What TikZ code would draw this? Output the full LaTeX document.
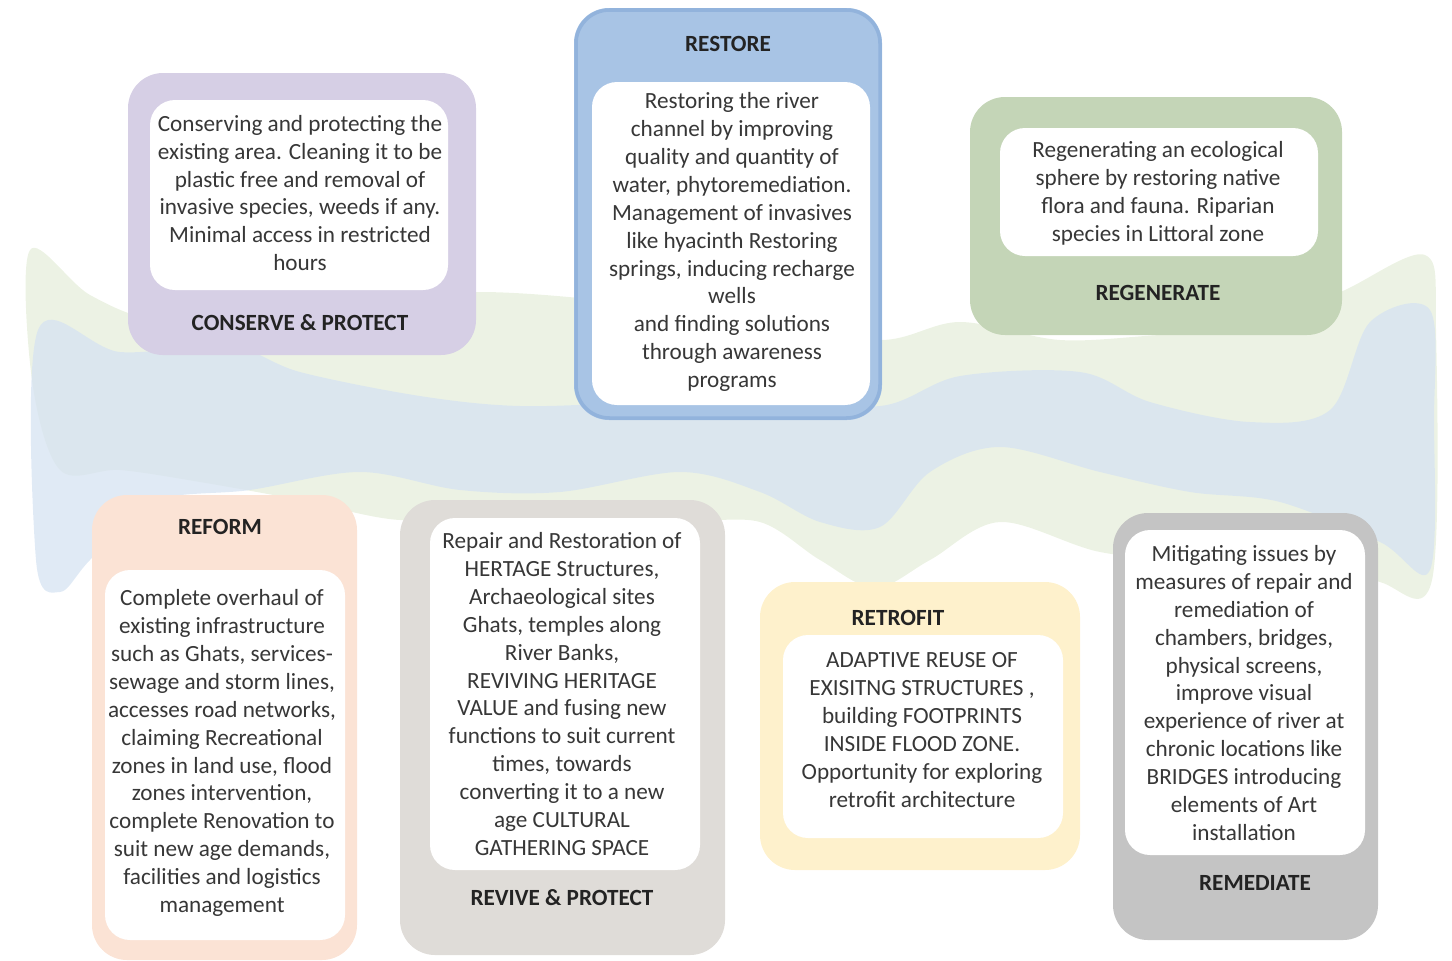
\documentclass[tikz,border=0pt]{standalone}
\usepackage{fontspec}
\setmainfont{Carlito}

\definecolor{riverblue}{RGB}{214,227,242}
\definecolor{rivergreen}{RGB}{228,237,216}
\definecolor{conservefill}{RGB}{214,207,229}
\definecolor{restorefill}{RGB}{168,196,229}
\definecolor{restoreedge}{RGB}{146,179,220}
\definecolor{regenfill}{RGB}{196,213,183}
\definecolor{reformfill}{RGB}{251,227,213}
\definecolor{revivefill}{RGB}{223,220,216}
\definecolor{retrofitfill}{RGB}{254,241,204}
\definecolor{remedfill}{RGB}{196,196,196}
\definecolor{bodytext}{RGB}{55,55,55}
\definecolor{headtext}{RGB}{35,35,35}

\begin{document}
\begin{tikzpicture}[x=0.02cm, y=-0.02cm,
    outerbox/.style={rounded corners=0.7cm},
    innerbox/.style={fill=white, rounded corners=0.5cm},
    body/.style={align=center, text=bodytext, inner sep=0pt,
      font=\fontsize{13.2}{15.9}\selectfont},
    head/.style={text=headtext, inner sep=0pt,
      font=\fontsize{13.2}{15.9}\selectfont\bfseries}]
  \useasboundingbox (0,0) rectangle (1452,960);

  % river in the background
  \fill[rivergreen, opacity=0.7] plot[smooth cycle, tension=0.55] coordinates {
    (30,250) (90,295) (160,320) (260,305) (380,300) (480,292) (600,300)
    (760,320) (880,340) (960,322) (1060,340) (1160,335) (1260,330)
    (1345,290) (1425,255) (1436,330) (1432,580) (1380,582) (1300,545)
    (1200,560) (1100,552) (1000,522) (930,560) (875,588) (820,560)
    (760,522) (680,520) (600,500) (500,512) (400,520) (300,500)
    (200,482) (120,470) (60,470) (32,380)};
  \fill[riverblue, opacity=0.75] plot[smooth cycle, tension=0.55] coordinates {
    (38,330) (120,352) (230,346) (300,372) (420,396) (520,406) (640,402)
    (760,396) (880,406) (960,376) (1080,372) (1150,402) (1250,422)
    (1330,410) (1370,322) (1430,310) (1434,420) (1430,570) (1380,542)
    (1280,502) (1190,492) (1100,472) (1000,447) (930,472) (880,527)
    (820,522) (760,492) (680,472) (560,492) (460,490) (360,472)
    (250,490) (150,502) (90,560) (60,592) (36,560)};

  % conserve & protect
  \fill[conservefill, outerbox] (128,73) rectangle (476,355);
  \fill[innerbox] (150,100) rectangle (448,290);
  \node[body] (conserve) at (300,193) {Conserving and protecting the\\
    existing area. Cleaning it to be\\ plastic free and removal of\\
    invasive species, weeds if any.\\ Minimal access in restricted\\ hours};
  \node[head] (conservehd) at (300,323) {CONSERVE \& PROTECT};

  % restore
  \fill[restorefill, outerbox] (574,8) rectangle (882,420);
  \draw[restoreedge, line width=2pt, rounded corners=0.67cm] (576,10) rectangle (880,418);
  \fill[innerbox] (592,82) rectangle (870,405);
  \node[head] (restorehd) at (728,44) {RESTORE};
  \node[body] (restore) at (732,242) {Restoring the river\\
    channel by improving\\ quality and quantity of\\
    water, phytoremediation.\\ Management of invasives\\
    like hyacinth Restoring\\ springs, inducing recharge\\ wells\\
    and finding solutions\\ through awareness\\ programs};

  % regenerate
  \fill[regenfill, outerbox] (970,97) rectangle (1342,335);
  \fill[innerbox] (1000,128) rectangle (1318,256);
  \node[body] (regen) at (1158,193) {Regenerating an ecological\\
    sphere by restoring native\\ flora and fauna. Riparian\\
    species in Littoral zone};
  \node[head] (regenhd) at (1158,293) {REGENERATE};

  % reform
  \fill[reformfill, outerbox] (92,495) rectangle (357,960);
  \fill[innerbox] (105,570) rectangle (345,940);
  \node[head] (reformhd) at (220,527) {REFORM};
  \node[body] (reform) at (222,753) {Complete overhaul of\\
    existing infrastructure\\ such as Ghats, services-\\
    sewage and storm lines,\\ accesses road networks,\\
    claiming Recreational\\ zones in land use, flood\\
    zones intervention,\\ complete Renovation to\\
    suit new age demands,\\ facilities and logistics\\ management};

  % revive & protect
  \fill[revivefill, outerbox] (400,500) rectangle (725,955);
  \fill[innerbox] (430,518) rectangle (700,870);
  \node[body] (revive) at (562,694) {Repair and Restoration of\\
    HERTAGE Structures,\\ Archaeological sites\\ Ghats, temples along\\
    River Banks,\\ REVIVING HERITAGE\\ VALUE and fusing new\\
    functions to suit current\\ times, towards\\
    converting it to a new\\ age CULTURAL\\ GATHERING SPACE};
  \node[head] (revivehd) at (562,898) {REVIVE \& PROTECT};

  % retrofit
  \fill[retrofitfill, outerbox] (760,582) rectangle (1080,870);
  \fill[innerbox] (783,635) rectangle (1063,838);
  \node[head] (retrofithd) at (898,618) {RETROFIT};
  \node[body] (retrofit) at (922,730) {ADAPTIVE REUSE OF\\
    EXISITNG STRUCTURES ,\\ building FOOTPRINTS\\
    INSIDE FLOOD ZONE.\\ Opportunity for exploring\\ retrofit architecture};

  % remediate
  \fill[remedfill, outerbox] (1113,513) rectangle (1378,940);
  \fill[innerbox] (1125,530) rectangle (1365,855);
  \node[body] (remed) at (1244,693) {Mitigating issues by\\
    measures of repair and\\ remediation of\\ chambers, bridges,\\
    physical screens,\\ improve visual\\ experience of river at\\
    chronic locations like\\ BRIDGES introducing\\
    elements of Art\\ installation};
  \node[head] (remedhd) at (1255,883) {REMEDIATE};
\end{tikzpicture}
\end{document}
